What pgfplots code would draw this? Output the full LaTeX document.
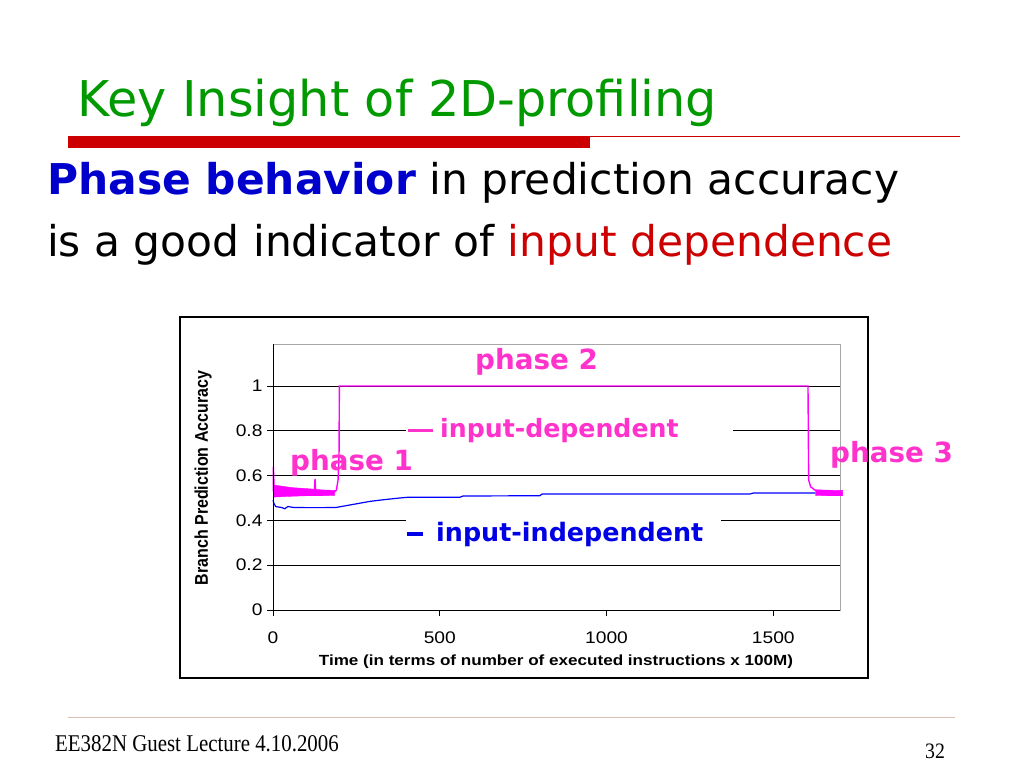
\documentclass[border=0pt]{standalone}
\usepackage{pgfplots}
\pgfplotsset{compat=1.18}
\usepackage{graphicx}
\usepackage{fontspec}
\setmainfont{DejaVu Sans}
\newfontfamily\tahoma{DejaVu Sans}
\newfontfamily\arial{Liberation Sans}
\newfontfamily\timesf{Liberation Serif}

\definecolor{titlegreen}{RGB}{0,153,0}
\definecolor{barred}{RGB}{204,0,0}
\definecolor{bodyblue}{RGB}{0,0,204}
\definecolor{pinktext}{RGB}{255,51,204}
\definecolor{magline}{RGB}{255,0,255}
\definecolor{bluetext}{RGB}{0,0,230}
\definecolor{blueline}{RGB}{0,0,255}
\definecolor{footline}{RGB}{217,190,180}

\newcommand\sx[1]{\scalebox{1.2}[1.05]{#1}}

\begin{document}
\begin{tikzpicture}[x=1pt,y=1pt]
% slide canvas 1024 x 768
\path[fill=white] (0,0) rectangle (1024,768);

% title and rule
\node[anchor=base west, inner sep=0, text=titlegreen,
      font=\tahoma\fontsize{49.3}{49.3}\selectfont] at (77,651) {Key Insight of 2D-profiling};
\fill[barred] (68,620) rectangle (590,632);
\draw[barred, line width=1.2pt] (590,631.4) -- (960,631.4);

% body text
\node[anchor=base west, inner sep=0, font=\tahoma\fontsize{42.4}{42.4}\selectfont] at (47,573)
  {\textbf{\color{bodyblue}Phase behavior} in prediction accuracy};
\node[anchor=base west, inner sep=0, font=\tahoma\fontsize{42.4}{42.4}\selectfont] at (47,511)
  {is a good indicator of {\color{barred}input dependence}};

% chart frame
\draw[black, line width=1.5pt] (180,90) rectangle (868,451);

\begin{axis}[
  at={(273pt,158pt)}, anchor=south west,
  scale only axis, width=567pt, height=266pt,
  xmin=0, xmax=1700, ymin=0, ymax=1.1875,
  clip=false,
  xtick={0,500,1000,1500},
  xticklabels={\sx{0},\sx{500},\sx{1000},\sx{1500}},
  ytick={0,0.2,0.4,0.6,0.8,1},
  yticklabels={\sx{0},\sx{0.2},\sx{0.4},\sx{0.6},\sx{0.8},\sx{1}},
  tick pos=left, tick align=outside, major tick length=6pt,
  tick style={black, line width=0.8pt},
  ymajorgrids=true,
  grid style={black, line width=0.8pt},
  axis line style={draw=black!35, line width=0.8pt},
  ticklabel style={font=\arial\fontsize{16}{16}\selectfont},
  yticklabel style={xshift=-1pt},
  xticklabel style={yshift=-12pt},
]
% input-independent
\addplot[blueline, line width=1.2pt] coordinates {
  (0,0.490) (3,0.475) (8,0.462) (15,0.460) (25,0.458) (35,0.452) (45,0.462)
  (60,0.458) (100,0.457) (150,0.457) (190,0.458) (220,0.466) (250,0.474)
  (291,0.485) (330,0.492) (380,0.500) (402,0.503) (560,0.503) (570,0.509)
  (800,0.510) (807,0.518) (1430,0.518) (1440,0.522) (1626,0.522)
};
% input-dependent: noisy bands of phase 1 and phase 3
\addplot[draw=magline, fill=magline, line width=0.4pt] coordinates {
  (2,0.558) (30,0.552) (60,0.546) (100,0.542) (150,0.536) (185,0.534)
  (185,0.512) (150,0.510) (100,0.510) (60,0.508) (30,0.506) (2,0.504)
};
\addplot[draw=magline, fill=magline, line width=0.4pt] coordinates {
  (1626,0.537) (1660,0.535) (1708,0.534)
  (1708,0.510) (1660,0.510) (1626,0.512)
};
% input-dependent: main trace
\addplot[magline, line width=1.4pt] coordinates {
  (1,0.530) (1,0.640) (3,0.560) (5,0.535) (124,0.530) (126,0.585) (128,0.530)
  (180,0.522) (190,0.535) (195,0.580) (198,0.700) (199,1.000)
  (1604,1.000) (1605,0.800) (1606,0.580) (1612,0.550) (1625,0.535)
  (1640,0.530) (1705,0.525)
};
\draw[black, line width=0.9pt] (rel axis cs:0,1) -- (rel axis cs:0,0) -- (rel axis cs:1,0);
\end{axis}

% axis titles
\node[rotate=90, inner sep=0, font=\arial\bfseries\fontsize{16}{16}\selectfont] at (203,290)
  {\scalebox{1}[1.15]{Branch Prediction Accuracy}};
\node[inner sep=0, font=\arial\bfseries\fontsize{14}{14}\selectfont] at (556,106)
  {\scalebox{1.22}[1.05]{Time (in terms of number of executed instructions x 100M)}};

% legend-like labels
\fill[white] (406,323) rectangle (733,352);
\draw[pinktext, line width=3pt] (408,337) -- (433,337);
\node[anchor=base west, inner sep=0, text=pinktext,
      font=\tahoma\bfseries\fontsize{25.2}{25.2}\selectfont] at (440,330) {input-dependent};
\fill[white] (406,212) rectangle (721,256);
\draw[bluetext, line width=4pt] (407,234) -- (423,234);
\node[anchor=base west, inner sep=0, text=bluetext,
      font=\tahoma\bfseries\fontsize{25.4}{25.4}\selectfont] at (436,226) {input-independent};

% phase labels
\node[anchor=base west, inner sep=0, text=pinktext,
      font=\tahoma\bfseries\fontsize{27.8}{27.8}\selectfont] at (475,398) {phase 2};
\node[anchor=base west, inner sep=0, text=pinktext,
      font=\tahoma\bfseries\fontsize{27.8}{27.8}\selectfont] at (290,297) {phase 1};
\node[anchor=base west, inner sep=0, text=pinktext,
      font=\tahoma\bfseries\fontsize{27.8}{27.8}\selectfont] at (830,305) {phase 3};

% footer
\draw[footline, line width=1pt] (68,51) -- (955,51);
\node[anchor=base west, inner sep=0, font=\timesf\fontsize{24}{24}\selectfont] at (55,17)
  {\scalebox{0.87}[1]{EE382N Guest Lecture 4.10.2006}};
\node[anchor=base west, inner sep=0, font=\timesf\fontsize{22}{22}\selectfont] at (925,10)
  {\scalebox{0.9}[1]{32}};
\end{tikzpicture}
\end{document}
